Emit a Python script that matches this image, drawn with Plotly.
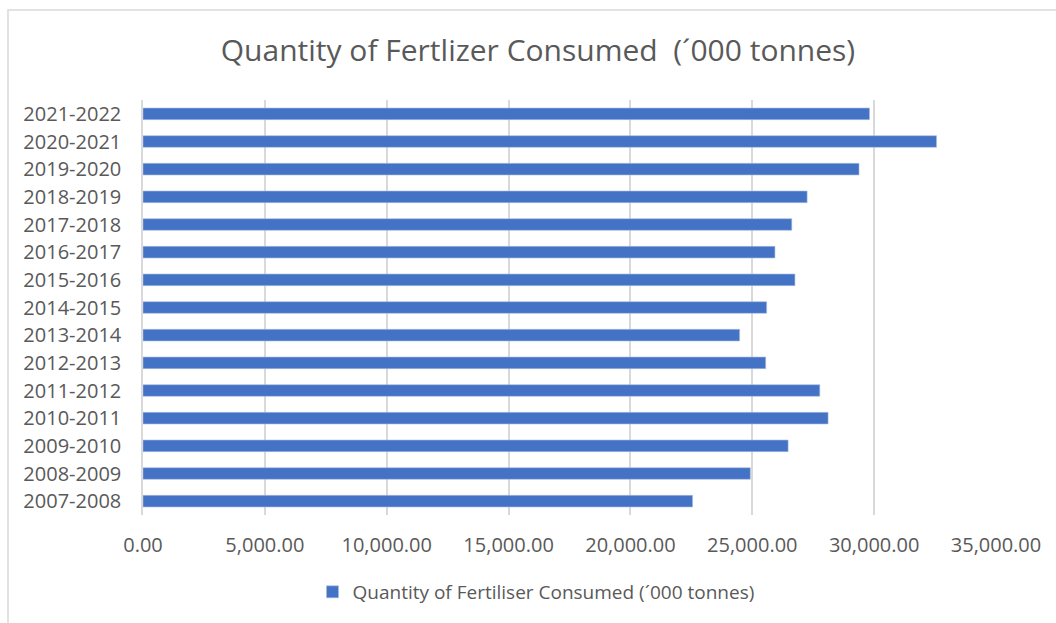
import plotly.graph_objects as go

categories = ["2007-2008", "2008-2009", "2009-2010", "2010-2011", "2011-2012",
              "2012-2013", "2013-2014", "2014-2015", "2015-2016", "2016-2017",
              "2017-2018", "2018-2019", "2019-2020", "2020-2021", "2021-2022"]
values = [22550, 24920, 26470, 28110, 27770, 25550, 24480, 25590, 26750, 25930,
          26620, 27250, 29380, 32560, 29810]
x_ticks = [0, 5000, 10000, 15000, 20000, 25000, 30000, 35000]
x_tick_labels = [f"{v:,.2f}" for v in x_ticks]
series_name = "Quantity of Fertiliser Consumed (\u00b4000 tonnes)"
title_text = "Quantity of Fertlizer Consumed  (\u00b4000 tonnes)"

W, H = 1056, 623
L, R, T, B = 143, 60, 100, 108
pw, ph = W - L - R, H - T - B

FONT = "Open Sans"
GREY = "#595959"
BLUE = "#4472C4"

fig = go.Figure()
fig.add_trace(go.Bar(
    y=categories, x=values, orientation="h", name=series_name,
    marker=dict(color=BLUE, line=dict(color="#a9bde3", width=0.6)),
    width=0.42, showlegend=True,
))

fig.update_layout(
    width=W, height=H,
    margin=dict(l=L, r=R, t=T, b=B),
    paper_bgcolor="white", plot_bgcolor="white",
    font=dict(family=FONT, color=GREY, size=20),
    title=dict(text=title_text, x=538 / W, xanchor="center", y=1 - 50 / H, yanchor="middle",
               font=dict(family=FONT, size=30, color=GREY)),
    showlegend=True,
    legend=dict(orientation="h", x=(536 - L) / pw, xanchor="center",
                y=-(592 - (T + ph)) / ph, yanchor="middle",
                font=dict(family=FONT, size=19, color=GREY),
                itemwidth=30),
    bargap=0.58,
)
fig.update_xaxes(
    range=[0, 35000], tickvals=x_ticks, ticktext=x_tick_labels,
    showgrid=True, gridcolor="#d9d9d9", gridwidth=1.5,
    zeroline=False, showline=False, ticks="", ticklabelstandoff=16,
    tickfont=dict(family=FONT, size=20, color=GREY),
)
fig.update_yaxes(
    categoryorder="array", categoryarray=categories,
    showgrid=False, showline=True, linecolor="#d9d9d9", linewidth=1.5,
    ticks="", ticklabelstandoff=16,
    tickfont=dict(family=FONT, size=20, color=GREY),
)
# outer chart border (only left/top visible in the picture)
fig.add_shape(type="rect", xref="paper", yref="paper",
              x0=(8 - L) / pw, x1=(1070 - L) / pw,
              y0=-(640 - (T + ph)) / ph, y1=1 + (T - 10) / ph,
              line=dict(color="#d9d9d9", width=1.5), layer="below")

fig.write_html("out.html")
